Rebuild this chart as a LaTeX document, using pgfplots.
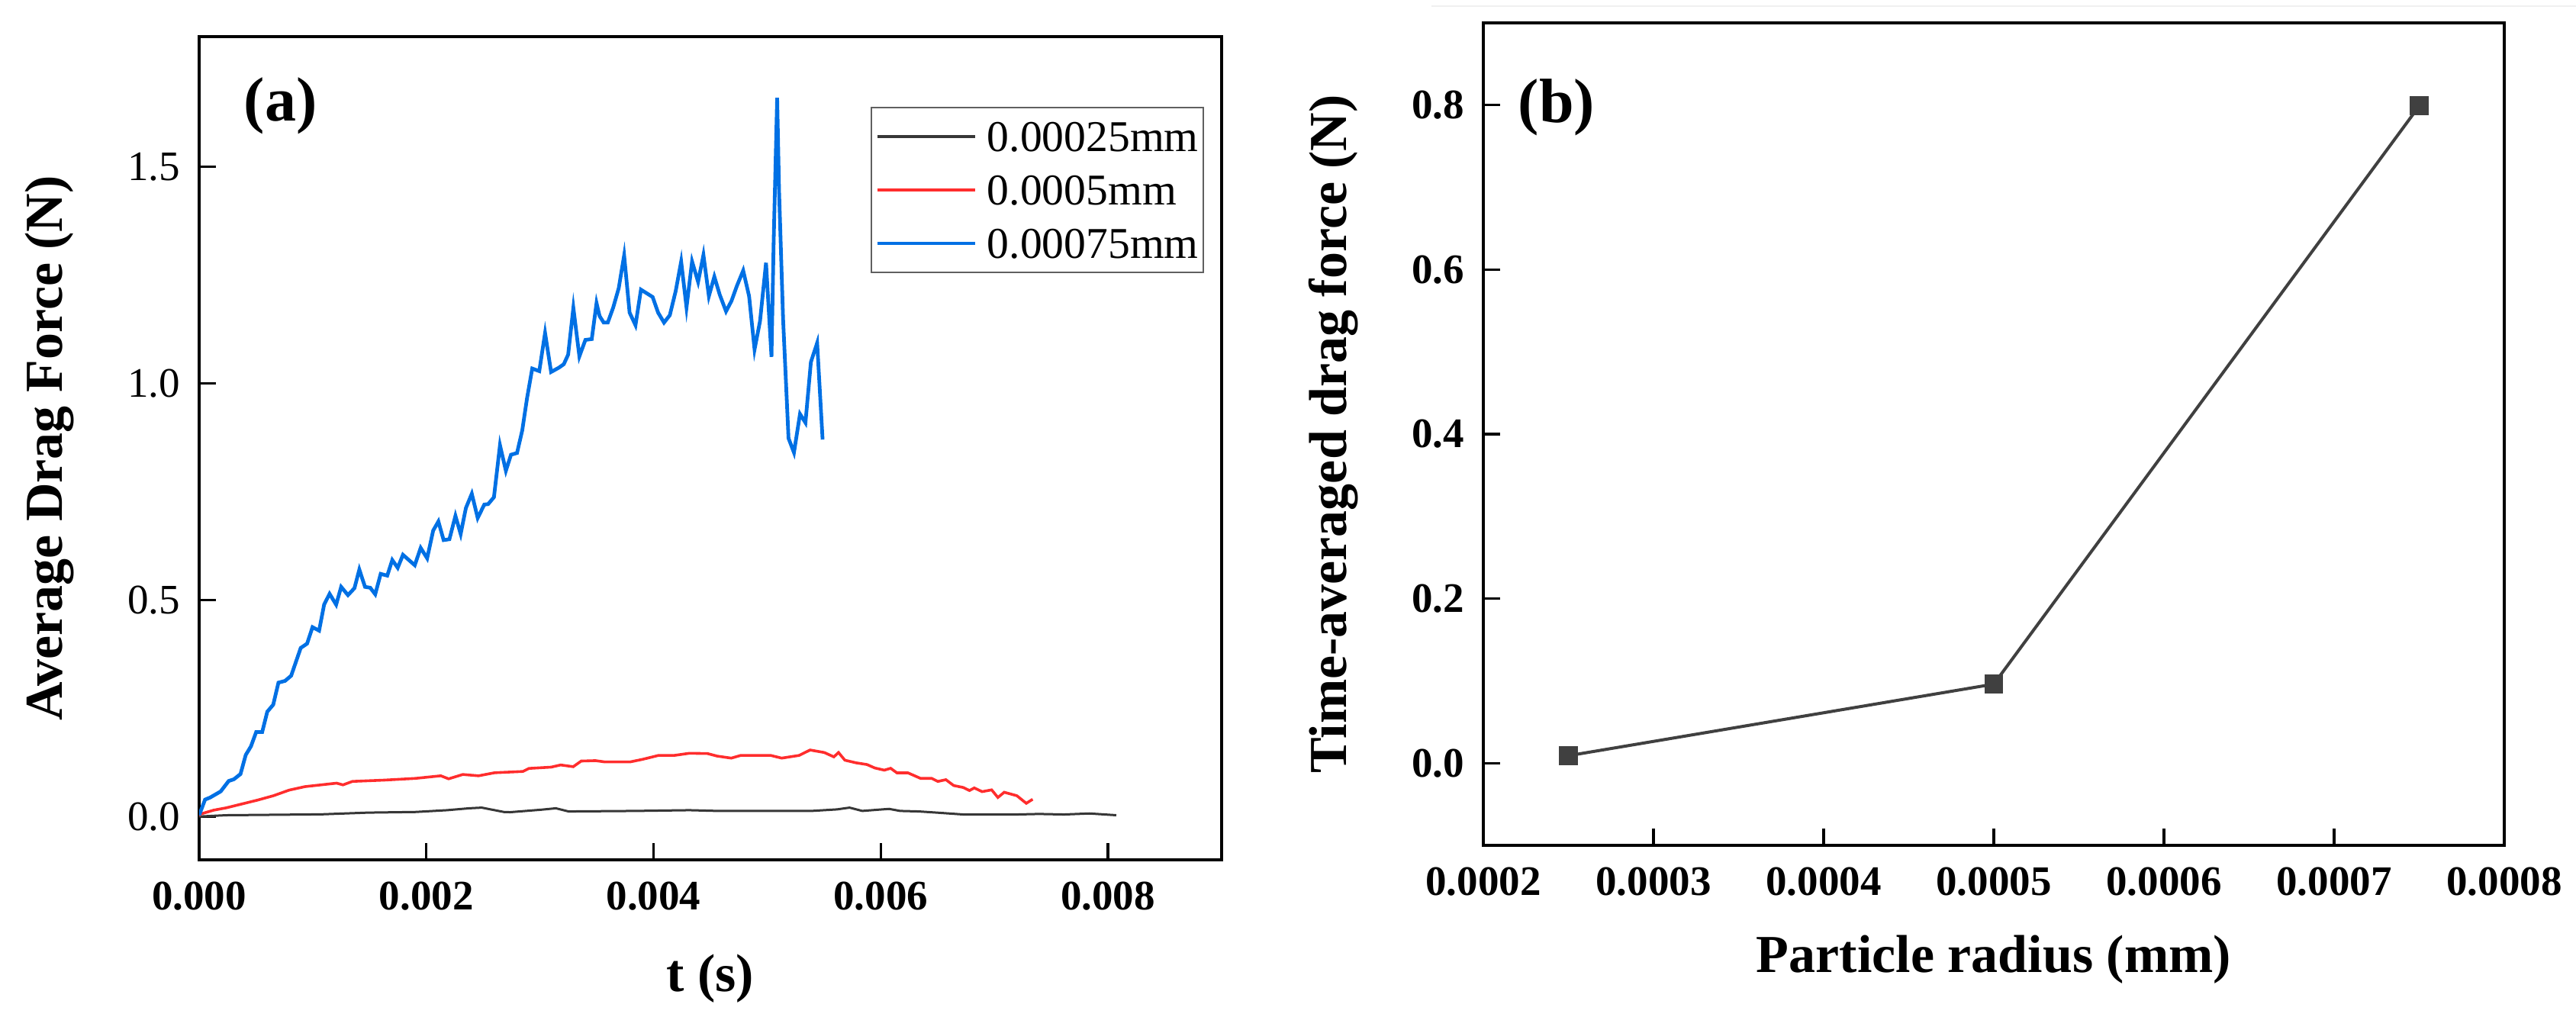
\documentclass[border=0pt]{standalone}
\usepackage{fontspec}
\setmainfont{Liberation Serif}
\usepackage{pgfplots}
\pgfplotsset{compat=1.18}
\definecolor{cblk}{RGB}{55,55,55}
\definecolor{cred}{RGB}{255,45,45}
\definecolor{cblue}{RGB}{0,112,228}
\definecolor{cgray}{RGB}{64,64,64}
\pgfplotsset{
  myaxis/.style={
    scale only axis, anchor=south west,
    axis line style={line width=1pt, black},
    tick align=inside, major tick length=5.5pt,
    every tick/.style={black, line width=0.8pt},
    xtick pos=left, ytick pos=left,
    scaled x ticks=false, scaled y ticks=false,
    /pgf/number format/assume math mode=true,
    xticklabel style={inner sep=0pt, anchor=north, yshift=-7pt, font=\fontsize{13.75}{14}\selectfont\bfseries},
    yticklabel style={inner sep=0pt, anchor=east, xshift=-6pt},
    label style={font=\fontsize{17.5}{20}\selectfont\bfseries},
  }
}
\begin{document}
\begin{tikzpicture}
\path[use as bounding box] (0pt,0pt) rectangle (844pt,333pt);
\draw[gray!12, line width=0.6pt] (469pt,331pt) -- (844pt,331pt);
% ---------------- panel (a)
\begin{axis}[myaxis,
  at={(65.25pt,51.25pt)}, width=335pt, height=269.75pt,
  xmin=0, xmax=0.009, ymin=-0.1, ymax=1.8,
  xtick={0,0.002,0.004,0.006,0.008},
  xticklabels={0.000,0.002,0.004,0.006,0.008},
  ytick={0,0.5,1.0,1.5},
  yticklabels={0.0,0.5,1.0,1.5},
  yticklabel style={font=\fontsize{13.75}{14}\selectfont},
  xlabel={t (s)}, ylabel={Average Drag Force (N)},
  xlabel style={at={(axis description cs:0.5,-0.1446)}, anchor=center},
  ylabel style={at={(axis description cs:-0.146,0.5)}, anchor=center},
  legend style={at={(axis description cs:0.9828,0.9147)}, anchor=north east,
    draw=gray!75!black, line width=0.6pt, inner xsep=1.5pt, inner ysep=4.75pt,
    font=\fontsize{14.4}{16}\selectfont, row sep=8pt, column sep=3.5pt,
    nodes={inner sep=0pt, text height=9.5pt, text depth=0pt}},
  legend cell align=left,
  legend image code/.code={\draw[#1, line width=1pt] (0pt,0pt) -- (32pt,0pt);},
]
\addplot[cblk, line width=0.75pt] table {
t F
0 0.0
0.000238 0.003
0.001071 0.005
0.001488 0.009
0.001904 0.0105
0.002182 0.0146
0.002377 0.019
0.002488 0.0205
0.002543 0.0176
0.002682 0.0105
0.002738 0.010
0.003015 0.0158
0.00314 0.019
0.003251 0.0117
0.003849 0.0129
0.004316 0.0146
0.004559 0.0129
0.005392 0.0129
0.005614 0.0164
0.005725 0.0205
0.005837 0.0129
0.006073 0.0176
0.00617 0.0129
0.006337 0.0117
0.006503 0.0088
0.006726 0.0047
0.007198 0.0047
0.007392 0.0059
0.007614 0.0047
0.007837 0.007
0.008073 0.003
};
\addlegendentry{0.00025mm}
\addplot[cred, line width=0.9pt] table {
t F
0 0.002
0.000016 0.006
0.000127 0.0146
0.000238 0.020
0.000377 0.029
0.000516 0.038
0.000654 0.048
0.000793 0.061
0.000932 0.069
0.001071 0.073
0.00121 0.077
0.001266 0.073
0.001349 0.081
0.001627 0.084
0.001904 0.088
0.002127 0.094
0.002196 0.087
0.002321 0.097
0.00246 0.094
0.0026 0.101
0.00285 0.104
0.002904 0.111
0.003099 0.114
0.003182 0.119
0.003293 0.115
0.003363 0.128
0.003488 0.129
0.003571 0.126
0.003793 0.126
0.003904 0.132
0.004043 0.141
0.004182 0.141
0.004316 0.146
0.004475 0.1453
0.004559 0.1395
0.004684 0.1348
0.004767 0.141
0.005031 0.141
0.005128 0.1348
0.005281 0.141
0.005378 0.1535
0.005503 0.1477
0.005587 0.1377
0.005628 0.1477
0.005684 0.130
0.005781 0.124
0.005878 0.120
0.005948 0.112
0.006031 0.107
0.006087 0.1113
0.006142 0.1008
0.006239 0.1008
0.00635 0.088
0.006448 0.088
0.006503 0.081
0.006573 0.085
0.006642 0.0715
0.006726 0.067
0.006781 0.060
0.006823 0.066
0.006892 0.0574
0.006976 0.0615
0.007031 0.044
0.007087 0.056
0.007198 0.048
0.007281 0.0305
0.007337 0.0398
};
\addlegendentry{0.0005mm}
\addplot[cblue, line width=1.2pt] table {
t F
0 0.003
0.000052 0.039
0.000098 0.044
0.00019 0.058
0.00026 0.082
0.000306 0.086
0.000364 0.098
0.00041 0.142
0.000456 0.162
0.000502 0.195
0.000555 0.195
0.0006 0.242
0.000652 0.258
0.000698 0.309
0.000756 0.313
0.00081 0.325
0.000894 0.389
0.00095 0.399
0.000998 0.437
0.001056 0.429
0.0011 0.489
0.001148 0.514
0.001206 0.489
0.00125 0.530
0.00131 0.511
0.001367 0.527
0.00141 0.570
0.00146 0.530
0.001506 0.528
0.00155 0.513
0.001598 0.560
0.001656 0.556
0.0017 0.592
0.001748 0.574
0.001794 0.604
0.001898 0.580
0.00195 0.620
0.002007 0.596
0.00206 0.660
0.002106 0.681
0.002152 0.638
0.002203 0.640
0.002256 0.694
0.002302 0.652
0.002348 0.712
0.0024 0.745
0.002452 0.689
0.00251 0.720
0.002544 0.721
0.002595 0.737
0.002648 0.857
0.0027 0.798
0.002745 0.835
0.002798 0.839
0.002844 0.891
0.002886 0.965
0.002932 1.034
0.002994 1.028
0.003045 1.116
0.003098 1.026
0.003167 1.036
0.00321 1.044
0.003248 1.066
0.003294 1.174
0.003347 1.062
0.0034 1.100
0.003456 1.102
0.003498 1.185
0.003525 1.155
0.003561 1.140
0.003597 1.140
0.003645 1.175
0.003693 1.219
0.003741 1.295
0.003789 1.163
0.003841 1.134
0.003889 1.216
0.003944 1.207
0.003992 1.199
0.00404 1.163
0.004092 1.140
0.004143 1.157
0.004195 1.213
0.004243 1.281
0.00429 1.175
0.004339 1.281
0.004392 1.234
0.004439 1.296
0.004487 1.201
0.004535 1.246
0.004583 1.204
0.004638 1.166
0.004686 1.190
0.004734 1.225
0.004789 1.260
0.004841 1.201
0.004889 1.078
0.004937 1.143
0.00499 1.278
0.005038 1.061
0.005057 1.325
0.005088 1.659
0.005105 1.442
0.00514 1.149
0.005188 0.873
0.005236 0.840
0.005289 0.929
0.005337 0.909
0.005385 1.049
0.00544 1.093
0.005488 0.870
};
\addlegendentry{0.00075mm}
\node[font=\fontsize{20.5}{22}\selectfont\bfseries] at (axis cs:0.000717,1.64) {(a)};
\end{axis}
% ---------------- panel (b)
\begin{axis}[myaxis,
  at={(486pt,56pt)}, width=334.5pt, height=269.5pt,
  xmin=0.0002, xmax=0.0008, ymin=-0.1, ymax=0.9,
  xtick={0.0002,0.0003,0.0004,0.0005,0.0006,0.0007,0.0008},
  xticklabels={0.0002,0.0003,0.0004,0.0005,0.0006,0.0007,0.0008},
  ytick={0,0.2,0.4,0.6,0.8},
  yticklabels={0.0,0.2,0.4,0.6,0.8},
  yticklabel style={font=\fontsize{13.75}{14}\selectfont\bfseries},
  xlabel={Particle radius (mm)}, ylabel={Time-averaged drag force (N)},
  xlabel style={at={(axis description cs:0.5,-0.139)}, anchor=center},
  ylabel style={at={(axis description cs:-0.1465,0.5)}, anchor=center},
]
\addplot[cgray, line width=1pt, mark=square*, mark size=2.6pt,
  mark options={fill=cgray, draw=cgray}] table {
r F
0.00025 0.009
0.0005 0.096
0.00075 0.799
};
\node[font=\fontsize{20.5}{22}\selectfont\bfseries] at (axis cs:0.000243,0.797) {(b)};
\end{axis}
\end{tikzpicture}
\end{document}
